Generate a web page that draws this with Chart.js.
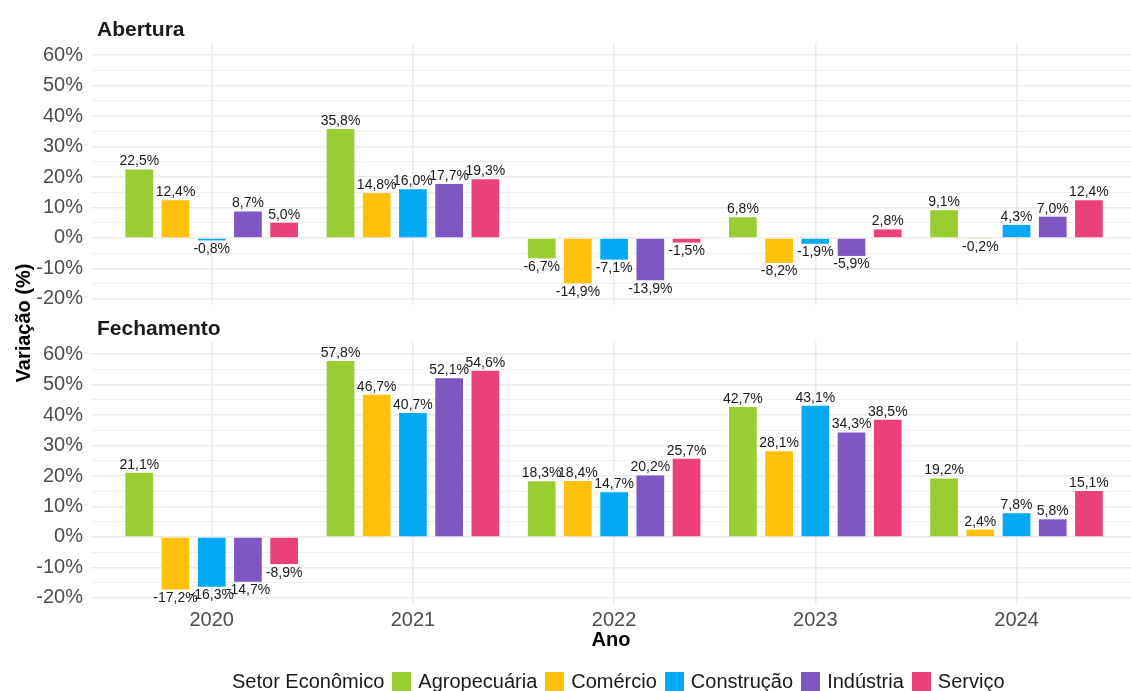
<!DOCTYPE html>
<html lang="pt-BR">
<head>
<meta charset="utf-8">
<title>Variação por setor econômico</title>
<script src="https://cdn.jsdelivr.net/npm/chart.js@4.4.1/dist/chart.umd.min.js"></script>
<style>
  html, body { margin: 0; padding: 0; background: #fff; overflow: hidden; }
  #wrap { position: relative; width: 1131px; height: 691px; font-family: 'Liberation Sans', Arial, sans-serif; }
  #wrap canvas { position: absolute; left: 0; top: 0; }
  #legenda { position: absolute; left: 232px; top: 670px; height: 22px; display: flex; align-items: center; font-size: 20px; color: #1a1a1a; white-space: nowrap; }
  #legenda .chave { width: 19px; height: 19px; margin: 0 7px 0 8px; }
</style>
</head>
<body>
<div id="wrap">
  <canvas id="abertura" width="1131" height="691"></canvas>
  <canvas id="fechamento" width="1131" height="691"></canvas>
  <div id="legenda"><span>Setor Econômico</span></div>
</div>
<script>
const anos = [2020, 2021, 2022, 2023, 2024];
const setores = ['Agropecuária', 'Comércio', 'Construção', 'Indústria', 'Serviço'];
const cores = ['#9ACD32', '#FFC107', '#03A9F4', '#7E57C2', '#EC407A'];

// Abertura
const abAgro = [22.5, 35.8, -6.7, 6.8, 9.1];
const abComercio = [12.4, 14.8, -14.9, -8.2, -0.2];
const abConstrucao = [-0.8, 16.0, -7.1, -1.9, 4.3];
const abIndustria = [8.7, 17.7, -13.9, -5.9, 7.0];
const abServico = [5.0, 19.3, -1.5, 2.8, 12.4];

// Fechamento
const feAgro = [21.1, 57.8, 18.3, 42.7, 19.2];
const feComercio = [-17.2, 46.7, 18.4, 28.1, 2.4];
const feConstrucao = [-16.3, 40.7, 14.7, 43.1, 7.8];
const feIndustria = [-14.7, 52.1, 20.2, 34.3, 5.8];
const feServico = [-8.9, 54.6, 25.7, 38.5, 15.1];

const yTicks = [-20, -15, -10, -5, 0, 5, 10, 15, 20, 25, 30, 35, 40, 45, 50, 55, 60];

const FONTE = "'Liberation Sans', Arial, sans-serif";
Chart.defaults.font.family = FONTE;
Chart.defaults.color = '#4d4d4d';

const fmt = (v) => v.toFixed(1).replace('.', ',') + '%';

const rotulos = {
    id: 'rotulos',
    afterDatasetsDraw(chart) {
        const { ctx } = chart;
        ctx.save();
        ctx.font = '14px ' + FONTE;
        ctx.fillStyle = '#1a1a1a';
        ctx.textAlign = 'center';
        ctx.textBaseline = 'alphabetic';
        chart.data.datasets.forEach((ds, i) => {
            chart.getDatasetMeta(i).data.forEach((bar, j) => {
                const v = ds.data[j].y;
                ctx.fillText(fmt(v), bar.x, v >= 0 ? bar.y - 4 : bar.y + 12.5);
            });
        });
        ctx.restore();
    },
};

const textos = {
    id: 'textos',
    afterDraw(chart, args, opts) {
        const { ctx } = chart;
        ctx.save();
        ctx.fillStyle = '#1a1a1a';
        ctx.font = 'bold 21px ' + FONTE;
        ctx.textAlign = 'left';
        ctx.textBaseline = 'alphabetic';
        ctx.fillText(opts.painel, 97, chart.chartArea.top - 7);
        if (opts.eixoY) {
            ctx.font = 'bold 20px ' + FONTE;
            ctx.fillStyle = '#000';
            ctx.translate(30, 323);
            ctx.rotate(-Math.PI / 2);
            ctx.textAlign = 'center';
            ctx.fillText(opts.eixoY, 0, 0);
        }
        ctx.restore();
    },
};

function montar(id, series, painel, comEixoX) {
    const datasets = series.map((vals, i) => ({
        label: setores[i],
        data: anos.map((a, j) => ({ x: a, y: vals[j] })),
        backgroundColor: cores[i],
        categoryPercentage: 0.9,
        barPercentage: 0.765,
    }));

    const gridY = {
        color: '#ebebeb',
        lineWidth: (c) => (c.tick && c.tick.value % 10 === 0 ? 1.6 : 0.8),
        drawTicks: false,
    };

    return new Chart(document.getElementById(id), {
        type: 'bar',
        data: { datasets },
        plugins: [rotulos, textos],
        options: {
            responsive: false,
            animation: false,
            devicePixelRatio: 1,
            layout: {
                padding: comEixoX
                    ? { top: 342, bottom: 39, left: 0, right: 0 }
                    : { top: 43, bottom: 386, left: 0, right: 0 },
            },
            plugins: {
                legend: { display: false },
                tooltip: { enabled: false },
                textos: { painel, eixoY: comEixoX ? 'Variação (%)' : null },
            },
            scales: {
                x: {
                    type: 'linear',
                    offset: false,
                    min: 2019.4,
                    max: 2024.569,
                    afterBuildTicks: (axis) => { axis.ticks = anos.map((a) => ({ value: a })); },
                    afterFit: (axis) => { axis.height = comEixoX ? 48 : 0; },
                    grid: { color: '#ebebeb', lineWidth: 1.6, drawTicks: false, offset: false },
                    border: { display: false },
                    ticks: {
                        display: comEixoX,
                        autoSkip: false,
                        padding: 4,
                        color: '#4d4d4d',
                        font: { size: 20 },
                        callback: (v) => String(v),
                    },
                    title: {
                        display: comEixoX,
                        text: 'Ano',
                        color: '#000',
                        font: { size: 20, weight: 'bold' },
                        padding: { top: 0, bottom: 0 },
                    },
                },
                y: {
                    min: -22,
                    max: 64,
                    afterBuildTicks: (axis) => { axis.ticks = yTicks.map((v) => ({ value: v })); },
                    afterFit: (axis) => { axis.width = 91; },
                    grid: gridY,
                    border: { display: false },
                    ticks: {
                        autoSkip: false,
                        padding: 8,
                        color: '#4d4d4d',
                        font: { size: 20 },
                        callback: (v) => (v % 10 === 0 ? v + '%' : ''),
                    },
                },
            },
        },
    });
}

montar('abertura', [abAgro, abComercio, abConstrucao, abIndustria, abServico], 'Abertura', false);
montar('fechamento', [feAgro, feComercio, feConstrucao, feIndustria, feServico], 'Fechamento', true);

const legenda = document.getElementById('legenda');
setores.forEach((s, i) => {
    const chave = document.createElement('span');
    chave.className = 'chave';
    chave.style.background = cores[i];
    const nome = document.createElement('span');
    nome.textContent = s;
    legenda.append(chave, nome);
});
</script>
</body>
</html>
